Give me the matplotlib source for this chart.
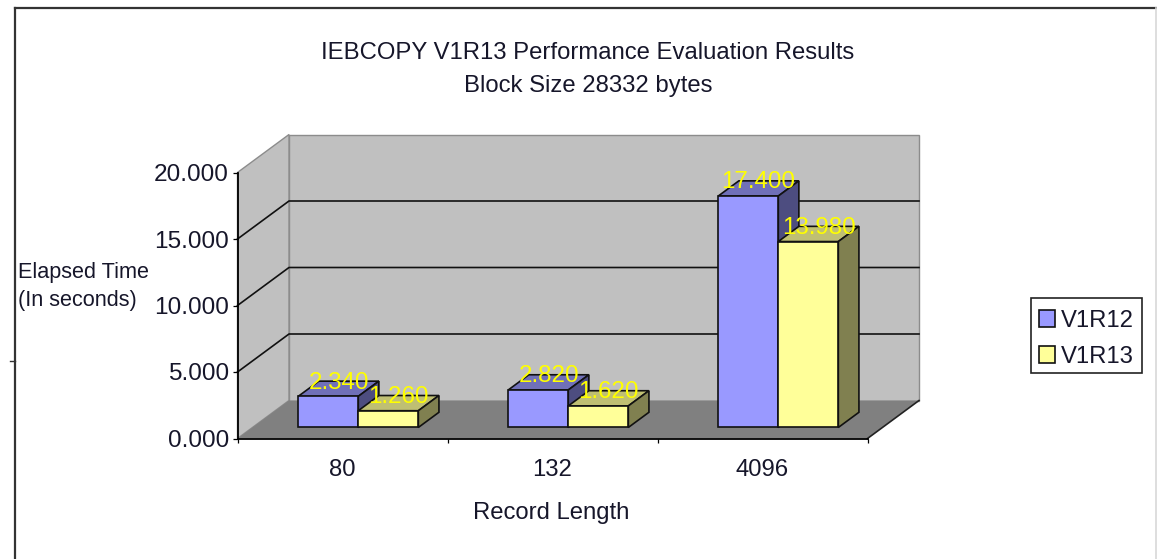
import matplotlib
matplotlib.use("Agg")
from matplotlib import pyplot as plt
from matplotlib.lines import Line2D
from matplotlib.patches import Polygon, Rectangle

plt.rcParams['font.family'] = ['Liberation Sans', 'DejaVu Sans']

categories = ["80", "132", "4096"]
v1r12 = [2.34, 2.82, 17.4]
v1r13 = [1.26, 1.62, 13.98]
series_names = ["V1R12", "V1R13"]
y_ticks = [0, 5, 10, 15, 20]

W, H = 1157, 559
TEXT = "#16162a"

# oblique depth of the fake 3d box, in category / value units per unit depth
DEPTH_X = 51.5 / 210
DEPTH_Y = 38 / 13.3
BAR_FRONT = 0.29
BAR_DEEP = 0.40
BAR_W = 0.286
GAP = 0.218


def project(x, y, d):
    return x + d * DEPTH_X, y + d * DEPTH_Y


def fx(px):
    return px / W


def fy(py):
    return 1 - py / H


fig = plt.figure(figsize=(W / 100, H / 100), dpi=100, facecolor="white")
ax = fig.add_axes([fx(237.5), fy(438.5), fx(630), (438.5 - 172.5) / H])
ax.set_xlim(0, len(categories))
ax.set_ylim(0, 20)
ax.patch.set_visible(False)

x_max = len(categories)
y_max = y_ticks[-1]


def poly(points, color, edge, z, lw=1.0):
    ax.add_patch(Polygon([project(*p) for p in points], closed=True, facecolor=color,
                         edgecolor=edge, linewidth=lw, zorder=z, clip_on=False))


# walls and floor
poly([(0, 0, 1), (x_max, 0, 1), (x_max, y_max, 1), (0, y_max, 1)], "#c0c0c0", "#8c8c8c", 1)
poly([(0, 0, 0), (0, 0, 1), (0, y_max, 1), (0, y_max, 0)], "#c0c0c0", "#8c8c8c", 1)
poly([(0, 0, 0), (x_max, 0, 0), (x_max, 0, 1), (0, 0, 1)], "#808080", "none", 1.5)

# gridlines run along the side wall then the back wall
for t in y_ticks[1:-1]:
    pts = [project(0, t, 0), project(0, t, 1), project(x_max, t, 1)]
    ax.plot([p[0] for p in pts], [p[1] for p in pts], color="#111111", lw=1.2, zorder=2,
            clip_on=False)
pts = [project(x_max, 0, 0), project(x_max, 0, 1)]
ax.plot([p[0] for p in pts], [p[1] for p in pts], color="#222222", lw=1.2, zorder=2, clip_on=False)

# bars
styles = [("#9999ff", "#7070b8", "#4d4d80"), ("#ffff99", "#bfbf73", "#808050")]
z = 3
for i in range(len(categories)):
    for s, vals in enumerate([v1r12, v1r13]):
        v = vals[i]
        left = i + GAP + s * BAR_W
        right = left + BAR_W
        front, top, side = styles[s]
        d0, d1 = BAR_FRONT, BAR_FRONT + BAR_DEEP
        poly([(left, v, d0), (right, v, d0), (right, v, d1), (left, v, d1)], top, "#111111", z, 1.2)
        poly([(right, 0, d0), (right, 0, d1), (right, v, d1), (right, v, d0)], side, "#111111", z, 1.2)
        x0, y0 = project(left, 0, d0)
        ax.bar(x0, v, BAR_W, bottom=y0, align="edge", color=front, edgecolor="#111111",
               linewidth=1.2, zorder=z + 0.5, clip_on=False,
               label=series_names[s] if i == 0 else None)
        z += 1

# value labels sit above the top face of each bar
for i in range(len(categories)):
    for s, vals in enumerate([v1r12, v1r13]):
        v = vals[i]
        cx = i + GAP + (s + 0.5) * BAR_W
        lx = project(cx, v, BAR_FRONT + BAR_DEEP / 2)[0]
        ly = project(cx, v, BAR_FRONT + BAR_DEEP)[1] - 0.12
        ax.text(lx, ly, "%.3f" % v, color="#ffff00", fontsize=17.4, ha="center", va="center",
                zorder=50, clip_on=False)

for name in ["top", "right"]:
    ax.spines[name].set_visible(False)
for name in ["left", "bottom"]:
    ax.spines[name].set_linewidth(1.3)
    ax.spines[name].set_zorder(20)

ax.set_yticks(y_ticks)
ax.set_yticklabels(["%.3f" % t for t in y_ticks], fontsize=17.6, color=TEXT)
ax.set_xticks([i + 0.5 for i in range(len(categories))])
ax.set_xticklabels(categories, fontsize=17.2, color=TEXT)
ax.set_xticks(range(len(categories) + 1), minor=True)
ax.tick_params(axis="y", length=3.6, width=0.9, pad=2.5)
ax.tick_params(axis="x", which="major", length=0, pad=15)
ax.tick_params(axis="x", which="minor", length=3, width=0.9)

fig.text(fx(588), fy(69.5), "IEBCOPY V1R13 Performance Evaluation Results\nBlock Size 28332 bytes",
         ha="center", va="center", fontsize=17.2, color=TEXT, linespacing=1.65)
fig.text(fx(18), fy(286.5), "Elapsed Time\n(In seconds)", ha="left", va="center", fontsize=15.6,
         color=TEXT, linespacing=1.47)
fig.text(fx(551), fy(513), "Record Length", ha="center", va="center", fontsize=17.2, color=TEXT)

# legend text sits low in its box, so the box is drawn on its own
fig.add_artist(Rectangle((fx(1031), fy(373)), fx(111), 75 / H, transform=fig.transFigure,
                         facecolor="white", edgecolor="#222222", linewidth=1.2))
leg = fig.legend(loc="center left", bbox_to_anchor=(fx(1031), fy(339)), fontsize=17.2,
                 frameon=False, handlelength=0.68, handleheight=0.68, handletextpad=0.22,
                 labelspacing=0.59, borderpad=0.34, borderaxespad=0, labelcolor=TEXT)

# the outer frame of the pasted chart
for xs, ys, c, lw in [([14.5, 14.5], [8, 559], "#333333", 1.6), ([14.5, 1157], [8, 8], "#333333", 1.6),
                      ([1156, 1156], [8, 559], "#d8d8d8", 1.2), ([10, 14.5], [361, 361], "#333333", 1.0)]:
    fig.add_artist(Line2D([fx(a) for a in xs], [fy(b) for b in ys], color=c, lw=lw))

fig.savefig("out.png", dpi=100)
